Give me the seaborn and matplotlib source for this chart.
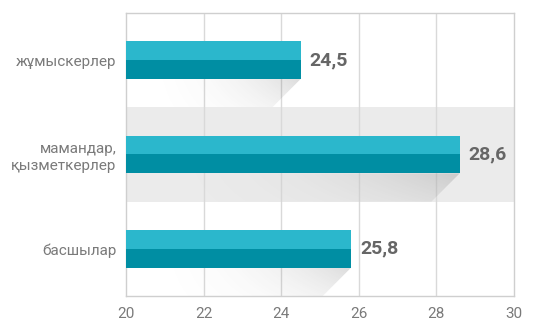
import matplotlib
matplotlib.use('Agg')
import matplotlib.pyplot as plt
import seaborn as sns
import numpy as np
import pandas as pd
from matplotlib.patches import Polygon

categories = ['жұмыскерлер', 'мамандар,\nқызметкерлер', 'басшылар']
values = [24.5, 28.6, 25.8]
value_labels = ['24,5', '28,6', '25,8']
x_ticks = [20, 22, 24, 26, 28, 30]

sns.set_theme(style='white')
plt.rcParams['font.family'] = ['Roboto', 'DejaVu Sans']

fig = plt.figure(figsize=(5.38, 3.22), dpi=100)
ax = fig.add_axes([126/538, 1-296/322, 388/538, 283/322])

parts = ['top', 'bottom']
df = pd.DataFrame({
    'cat': [c for c in categories for p in parts],
    'val': [v for v in values for p in parts],
    'part': parts * len(categories),
})

ax.axhspan(0.5, 1.5, color='#ebebeb', zorder=0, lw=0)

sns.barplot(data=df, y='cat', x='val', hue='part', orient='h', dodge=True,
            width=0.4, palette=['#2bb7cc', '#008ea3'], legend=False, ax=ax,
            saturation=1, linewidth=0, zorder=4)

for i, v in enumerate(values):
    yb = i + 0.2
    ye = i + 0.5
    dx = 2.43 * (ye - yb)
    nx, ny = 200, 40
    t = np.linspace(0, 1, nx)[None, :]
    s = np.linspace(0, 1, ny)[:, None]
    alpha = 0.2 * t ** 2.5 * (1 - 0.5 * s)
    img = np.zeros((ny, nx, 4))
    img[..., :3] = 0.3
    img[..., 3] = alpha
    im = ax.imshow(img, extent=(20, v, ye, yb), origin='upper', aspect='auto',
                   zorder=2, interpolation='bilinear')
    poly = Polygon([(20, yb), (v, yb), (v - dx, ye), (20, ye)], closed=True,
                   transform=ax.transData, facecolor='none', edgecolor='none')
    ax.add_patch(poly)
    im.set_clip_path(poly)

for i, (v, lab) in enumerate(zip(values, value_labels)):
    ax.text(v + 0.23, i, lab, va='center', ha='left', fontsize=14,
            fontweight='bold', color='#666666', zorder=5)

ax.set_xlim(20, 30)
ax.set_ylim(2.5, -0.5)
ax.set_xticks(x_ticks)
ax.set_xticklabels([str(x) for x in x_ticks])
ax.set_xlabel('')
ax.set_ylabel('')
ax.tick_params(axis='x', length=0, pad=8, labelsize=11, labelcolor='#7a7a7a')
ax.tick_params(axis='y', length=0, pad=7, labelsize=11, labelcolor='#7a7a7a')
for lab in ax.get_yticklabels():
    lab.set_horizontalalignment('right')
    lab.set_multialignment('right')
    lab.set_linespacing(1.3)

for x in x_ticks[1:-1]:
    ax.axvline(x, color='#d9d9d9', lw=1, zorder=1)
for sp in ax.spines.values():
    sp.set_color('#cfcfcf')
    sp.set_linewidth(1)
ax.set_facecolor('white')

fig.savefig('out.png', dpi=100)
